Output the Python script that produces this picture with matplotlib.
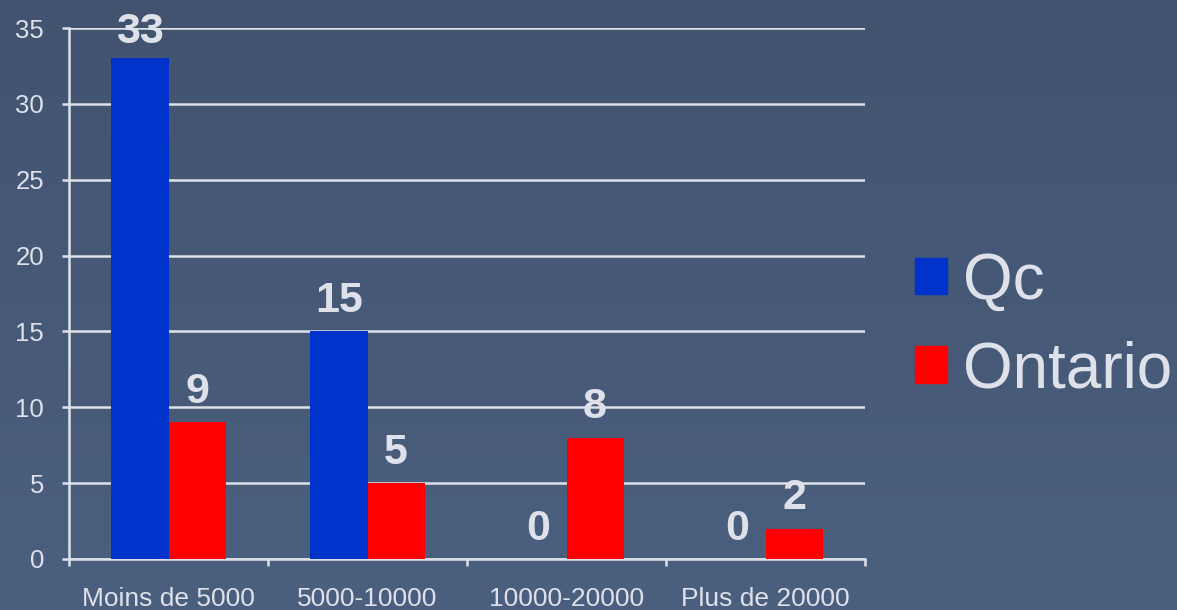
import numpy as np
import matplotlib.pyplot as plt
from matplotlib.patches import Patch

categories = ["Moins de 5000", "5000-10000", "10000-20000", "Plus de 20000"]
qc = [33, 15, 0, 0]
ontario = [9, 5, 8, 2]
yticks = [0, 5, 10, 15, 20, 25, 30, 35]

FG = "#dfe1ea"
QC_COLOR = "#0033cc"
ON_COLOR = "#ff0000"

plt.rcParams['font.family'] = ['Liberation Sans', 'DejaVu Sans']

fig = plt.figure(figsize=(11.77, 6.1), dpi=100)

# background gradient
bg = fig.add_axes([0, 0, 1, 1], zorder=-10)
top = np.array([65, 83, 111]) / 255
bot = np.array([75, 96, 127]) / 255
t = np.linspace(0, 1, 256)[:, None]
grad = top[None, :] * (1 - t) + bot[None, :] * t
bg.imshow(np.repeat(grad[:, None, :], 2, axis=1), aspect='auto', extent=[0, 1, 0, 1])
bg.axis('off')

ax = fig.add_axes([69 / 1177, 51 / 610, 796 / 1177, 531 / 610])
ax.patch.set_alpha(0)

x = np.arange(len(categories))
w = 0.287
ax.bar(x - w / 2, qc, w, color=QC_COLOR, zorder=3, label="Qc")
ax.bar(x + w / 2, ontario, w, color=ON_COLOR, zorder=3, label="Ontario")

for xi, v in zip(x - w / 2, qc):
    off = 11 if v > 30 else 14
    ax.annotate(str(v), (xi, v), xytext=(0, off), textcoords='offset points',
                ha='center', va='baseline', fontsize=31, fontweight='bold', color=FG, zorder=5)
for xi, v in zip(x + w / 2, ontario):
    ax.annotate(str(v), (xi, v), xytext=(0, 14), textcoords='offset points',
                ha='center', va='baseline', fontsize=31, fontweight='bold', color=FG, zorder=5)

ax.set_xlim(-0.5, 3.5)
ax.set_ylim(0, 35)
ax.set_yticks(yticks)
ax.yaxis.grid(True, color=FG, linewidth=1.8, zorder=0)
ax.set_axisbelow(True)

ax.set_xticks(x)
ax.set_xticklabels(categories)
ax.set_xticks(np.arange(-0.5, 4, 1), minor=True)
ax.tick_params(axis='x', which='major', length=0, pad=20, labelsize=19, labelcolor=FG)
ax.tick_params(axis='x', which='minor', length=5, width=1.8, color=FG)
ax.tick_params(axis='y', length=5, width=1.8, color=FG, pad=13, labelsize=18.5, labelcolor=FG)

for s in ['top', 'right']:
    ax.spines[s].set_visible(False)
for s in ['left', 'bottom']:
    ax.spines[s].set_color(FG)
    ax.spines[s].set_linewidth(1.8)

handles = [Patch(color=QC_COLOR, label="Qc"), Patch(color=ON_COLOR, label="Ontario")]
leg = fig.legend(handles=handles, loc='center left', bbox_to_anchor=(915 / 1177, 284 / 610),
                 fontsize=46, frameon=False, handlelength=0.5, handleheight=0.5,
                 handletextpad=0.25, labelspacing=0.45, borderaxespad=0, borderpad=0)
for txt in leg.get_texts():
    txt.set_color(FG)

fig.savefig("out.png", dpi=100)
